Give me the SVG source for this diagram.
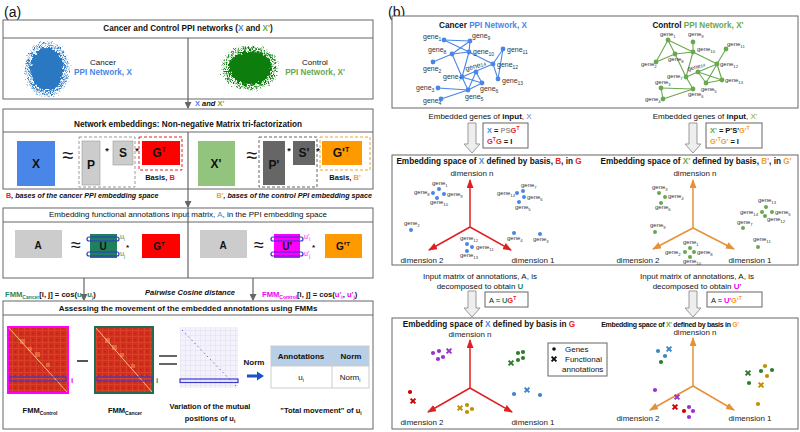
<svg xmlns="http://www.w3.org/2000/svg" xmlns:xlink="http://www.w3.org/1999/xlink" width="800" height="432" viewBox="0 0 800 432">
<style>
text{font-family:"Liberation Sans",Arial,sans-serif;fill:#111}
.b{font-weight:bold}
.i{font-style:italic}
.t8{font-size:8px}
.ti{font-size:8.2px;font-weight:bold}
.box{fill:#fff;stroke:#666;stroke-width:1}
.ln{stroke:#666;stroke-width:1.2;fill:none}
.gl{font-size:7px;fill:#333}
.gs{font-size:5px}
.gl2{font-size:6px;fill:#333}
.gs2{font-size:4.2px}
.ce{stroke:#4a86e8;stroke-width:1.1}
.ke{stroke:#6aa84f;stroke-width:1.1}
.mat{font-size:12px;font-weight:bold;text-anchor:middle}
.blue{fill:#4a86e8}
.grn{fill:#6aa84f}
.red{fill:#e8231f}
.org{fill:#f0a030}
.teal{fill:#1a8a6a}
.mag{fill:#ee00ee}
.dim{font-size:8px;fill:#222}
</style>
<defs>
<marker id="mg" markerWidth="7" markerHeight="7" refX="6" refY="3.5" orient="auto" markerUnits="userSpaceOnUse"><path d="M0,0 L7,3.5 L0,7 z" fill="#666"/></marker>
<marker id="mr" markerWidth="9" markerHeight="7" refX="8" refY="3.5" orient="auto" markerUnits="userSpaceOnUse"><path d="M0,0 L9,3.5 L0,7 z" fill="#e02020"/></marker>
<marker id="mo" markerWidth="9" markerHeight="7" refX="8" refY="3.5" orient="auto" markerUnits="userSpaceOnUse"><path d="M0,0 L9,3.5 L0,7 z" fill="#e69138"/></marker>
<path id="harrow" d="M-4,0 H4 V21 H8 L0,30 L-8,21 H-4 Z" fill="#eeeeee" stroke="#999" stroke-width="1"/>
<path id="harrow2" d="M-4,0 H4 V17 H8 L0,26 L-8,17 H-4 Z" fill="#eeeeee" stroke="#999" stroke-width="1"/>
<path id="xm" d="M-2.4,-2.4 L2.4,2.4 M2.4,-2.4 L-2.4,2.4" stroke-width="2"/>
<pattern id="hmp" width="6" height="6" patternUnits="userSpaceOnUse"><rect width="6" height="6" fill="#d22d20"/><path d="M0,0.5 H6 M0.5,0 V6" stroke="#e0502c" stroke-width="0.5"/><rect x="2" y="3" width="2" height="1.5" fill="#c2241a"/></pattern>
<pattern id="vp" width="5" height="5" patternUnits="userSpaceOnUse"><rect width="5" height="5" fill="#f4f2fb"/><path d="M0,0.5 H5 M0.5,0 V5" stroke="#e2ddf1" stroke-width="0.5"/></pattern>
<filter id="rough" x="-40%" y="-40%" width="180%" height="180%"><feTurbulence type="fractalNoise" baseFrequency="0.45" numOctaves="2" seed="4" result="n"/><feDisplacementMap in="SourceGraphic" in2="n" scale="9" xChannelSelector="R" yChannelSelector="G"/></filter>
</defs>

<!-- panel labels -->
<text x="4" y="17" style="font-size:14px">(a)</text>
<text x="388" y="17" style="font-size:14px">(b)</text>

<!-- ============ PANEL A ============ -->
<g id="a-box1">
<rect class="box" x="3" y="20" width="370" height="79"/>
<line class="ln" x1="3" y1="38" x2="373" y2="38" style="stroke-width:1"/>
<text class="ti" x="188" y="31" text-anchor="middle">Cancer and Control PPI networks (<tspan class="blue">X</tspan> and <tspan class="grn">X'</tspan>)</text>
<g id="cancer-blob" filter="url(#rough)">
<ellipse cx="47" cy="69" rx="17" ry="22" fill="#2b78c2"/>
<ellipse cx="47" cy="69" rx="19.5" ry="24.5" fill="none" stroke="#2b78c2" stroke-width="2.5" stroke-dasharray="1.5 1"/>
<ellipse cx="47" cy="69" rx="22" ry="27" fill="none" stroke="#5a9ad4" stroke-width="1.2" stroke-dasharray="1 2"/>
</g>
<text class="t8" x="103" y="65" text-anchor="middle">Cancer</text>
<text class="b blue" x="103" y="75" text-anchor="middle" style="font-size:8.2px">PPI Network, X</text>
<g id="control-blob" filter="url(#rough)">
<ellipse cx="250" cy="68" rx="22" ry="17" fill="#0a7d0a"/>
<ellipse cx="250" cy="68" rx="25" ry="19.5" fill="none" stroke="#0a7d0a" stroke-width="2.5" stroke-dasharray="1.5 1"/>
<ellipse cx="250" cy="68" rx="28" ry="22" fill="none" stroke="#2e8f2e" stroke-width="1.2" stroke-dasharray="1 2.5"/>
</g>
<text class="t8" x="315" y="65" text-anchor="middle">Control</text>
<text class="b grn" x="315" y="75" text-anchor="middle" style="font-size:8.2px">PPI Network, X'</text>
</g>

<g id="a-box2">
<rect class="box" x="3" y="109" width="370" height="80"/>
<line class="ln" x1="3" y1="132" x2="373" y2="132" style="stroke-width:1"/>
<text class="ti" x="188" y="127" text-anchor="middle">Network embeddings: Non-negative Matrix tri-factorization</text>
<rect x="17" y="141" width="38" height="45" fill="#4a86e8"/>
<text class="mat" x="36" y="168">X</text>
<text x="68" y="162" text-anchor="middle" style="font-size:20px">≈</text>
<rect x="79" y="137" width="56" height="50" fill="none" stroke="#999" stroke-dasharray="3 2"/>
<rect x="82" y="141" width="18" height="44" fill="#cccccc" stroke="#999" stroke-width="0.6"/>
<text class="mat" x="91" y="169">P</text>
<text x="107" y="154" text-anchor="middle" class="b" style="font-size:9px">*</text>
<rect x="113" y="141" width="20" height="24" fill="#cccccc" stroke="#999" stroke-width="0.6"/>
<text class="mat" x="123" y="157">S</text>
<text x="137" y="154" text-anchor="middle" class="b" style="font-size:9px">*</text>
<rect x="139" y="137" width="43" height="33" fill="none" stroke="#e8231f" stroke-dasharray="3 2"/>
<rect x="142" y="141" width="38" height="24" fill="#ff0000"/>
<text class="mat" x="159" y="157">G<tspan dy="-5" style="font-size:7px">T</tspan></text>
<text class="b" x="160" y="180" text-anchor="middle" style="font-size:7.5px">Basis, <tspan class="red">B</tspan></text>

<rect x="198" y="141" width="37" height="45" fill="#93c47d"/>
<text class="mat" x="216" y="168">X'</text>
<text x="252" y="162" text-anchor="middle" style="font-size:20px">≈</text>
<rect x="259" y="137" width="58" height="50" fill="none" stroke="#666" stroke-dasharray="3 2"/>
<rect x="263" y="141" width="22" height="44" fill="#666666"/>
<text class="mat" x="274" y="169">P'</text>
<text x="289" y="154" text-anchor="middle" class="b" style="font-size:9px">*</text>
<rect x="293" y="141" width="22" height="24" fill="#666666"/>
<text class="mat" x="304" y="157">S'</text>
<text x="318" y="154" text-anchor="middle" class="b" style="font-size:9px">*</text>
<rect x="320" y="137" width="50" height="33" fill="none" stroke="#f0a030" stroke-dasharray="3 2"/>
<rect x="322" y="141" width="40" height="24" fill="#ff9900"/>
<text class="mat" x="341" y="157">G'<tspan dy="-5" style="font-size:7px">T</tspan></text>
<text class="b" x="345" y="180" text-anchor="middle" style="font-size:7.5px">Basis, <tspan class="org">B'</tspan></text>
</g>

<text class="b i" x="6" y="198" style="font-size:7.2px"><tspan class="red" style="font-style:normal">B</tspan>,  bases of the cancer PPI embedding space</text>
<text class="b i" x="372" y="198" text-anchor="end" style="font-size:7.2px"><tspan class="org" style="font-style:normal">B'</tspan>, bases of the control PPI embedding space</text>

<g id="a-box3">
<rect class="box" x="3" y="208" width="370" height="70"/>
<line class="ln" x1="3" y1="222" x2="373" y2="222" style="stroke-width:1"/>
<text x="188" y="217" text-anchor="middle" style="font-size:8px;font-weight:500">Embedding functional annotations input matrix, <tspan fill="#5b7fc7">A</tspan>, in the PPI embedding space</text>
<rect x="15" y="230" width="47" height="28" fill="#cccccc"/>
<text class="mat" x="38" y="249" style="font-size:10px">A</text>
<text x="76" y="251" text-anchor="middle" style="font-size:18px">≈</text>
<rect x="90" y="234" width="27" height="24" fill="#1f7f5f"/>
<rect x="87" y="237" width="32" height="4" rx="2" fill="none" stroke="#3333cc" stroke-width="1.2"/>
<rect x="87" y="252" width="32" height="4" rx="2" fill="none" stroke="#3333cc" stroke-width="1.2"/>
<text class="mat" x="103" y="250" style="font-size:10px">U</text>
<text class="teal" x="120" y="239" style="font-size:7px">u<tspan dy="1.5" style="font-size:4.5px">i</tspan></text>
<text class="teal" x="120" y="256" style="font-size:7px">u<tspan dy="1.5" style="font-size:4.5px">j</tspan></text>
<text x="126" y="250" class="b" style="font-size:8px">*</text>
<rect x="142" y="234" width="38" height="24" fill="#ff0000"/>
<text class="mat" x="159" y="250" style="font-size:10px">G<tspan dy="-4" style="font-size:6px">T</tspan></text>

<rect x="200" y="230" width="47" height="28" fill="#cccccc"/>
<text class="mat" x="223" y="249" style="font-size:10px">A</text>
<text x="259" y="251" text-anchor="middle" style="font-size:18px">≈</text>
<rect x="274" y="234" width="26" height="24" fill="#ff00ff"/>
<rect x="271" y="237" width="32" height="4" rx="2" fill="none" stroke="#3333cc" stroke-width="1.2"/>
<rect x="271" y="252" width="32" height="4" rx="2" fill="none" stroke="#3333cc" stroke-width="1.2"/>
<text class="mat" x="287" y="250" style="font-size:10px">U'</text>
<text class="mag" x="304" y="239" style="font-size:7px">u'<tspan dy="1.5" style="font-size:4.5px">i</tspan></text>
<text class="mag" x="304" y="256" style="font-size:7px">u'<tspan dy="1.5" style="font-size:4.5px">j</tspan></text>
<text x="312" y="250" class="b" style="font-size:8px">*</text>
<rect x="325" y="234" width="37" height="24" fill="#ff9900"/>
<text class="mat" x="343" y="250" style="font-size:10px">G'<tspan dy="-4" style="font-size:6px">T</tspan></text>
</g>

<text class="b" x="5" y="297" style="font-size:7.6px"><tspan class="teal">FMM</tspan><tspan class="teal" dy="1.8" style="font-size:5px">Cancer</tspan><tspan dy="-1.8">[i, j] = cos(</tspan><tspan class="teal">u</tspan><tspan class="teal" dy="1.8" style="font-size:5px">i</tspan><tspan dy="-1.8">, </tspan><tspan class="teal">u</tspan><tspan class="teal" dy="1.8" style="font-size:5px">j</tspan><tspan dy="-1.8">)</tspan></text>
<text class="b i" x="190" y="295" text-anchor="middle" style="font-size:7.5px">Pairwise Cosine distance</text>
<text class="b" x="262" y="297" style="font-size:7.6px"><tspan class="mag">FMM</tspan><tspan class="mag" dy="1.8" style="font-size:5px">Control</tspan><tspan dy="-1.8">[i, j] = cos(</tspan><tspan class="mag">u'</tspan><tspan class="mag" dy="1.8" style="font-size:5px">i</tspan><tspan dy="-1.8">, </tspan><tspan class="mag">u'</tspan><tspan class="mag" dy="1.8" style="font-size:5px">j</tspan><tspan dy="-1.8">)</tspan></text>

<g id="a-box4">
<rect class="box" x="3" y="301" width="370" height="128"/>
<line class="ln" x1="3" y1="315" x2="373" y2="315" style="stroke-width:1"/>
<text class="ti" x="188" y="311" text-anchor="middle" style="font-size:8px">Assessing the movement of the embedded annotations using FMMs</text>
<g id="fmm-control">
<rect x="8" y="327" width="60" height="66" fill="url(#hmp)" stroke="#ff00ff" stroke-width="2"/>
<g fill="#f39a55" opacity="0.5"><rect x="20" y="339" width="5" height="5"/><rect x="28" y="347" width="4" height="4"/><rect x="35" y="352" width="5" height="5"/><rect x="46" y="363" width="4" height="4"/></g>
<line x1="9" y1="328" x2="67" y2="392" stroke="#f8d08a" stroke-width="0.9"/>
<rect x="10" y="377" width="56" height="4" fill="none" stroke="#3b3bd0" stroke-width="1.2"/>
<text class="mag b" x="71" y="383" style="font-size:8px">i</text>
</g>
<line x1="77" y1="361" x2="88" y2="361" stroke="#555" stroke-width="2"/>
<g id="fmm-cancer">
<rect x="95" y="327" width="58" height="66" fill="url(#hmp)" stroke="#1f6e4f" stroke-width="2"/>
<g fill="#f39a55" opacity="0.5"><rect x="105" y="338" width="5" height="5"/><rect x="112" y="345" width="5" height="5"/><rect x="120" y="353" width="4" height="4"/><rect x="131" y="364" width="4" height="4"/></g>
<line x1="96" y1="328" x2="152" y2="392" stroke="#f8d08a" stroke-width="0.9"/>
<rect x="97" y="377" width="55" height="4" fill="none" stroke="#3b3bd0" stroke-width="1.2"/>
<text class="teal b" x="156" y="383" style="font-size:8px">i</text>
</g>
<line x1="159" y1="356" x2="177" y2="356" stroke="#555" stroke-width="1.8"/>
<line x1="159" y1="364" x2="177" y2="364" stroke="#555" stroke-width="1.8"/>
<g id="variation">
<rect x="180" y="327" width="58" height="61" fill="url(#vp)"/>
<line x1="182" y1="330" x2="236" y2="386" stroke="#6a6ad0" stroke-width="1" stroke-dasharray="1.5 3"/>
<rect x="180" y="379" width="58" height="3.5" fill="none" stroke="#3b3bd0" stroke-width="1.2"/>
</g>
<text class="b" x="40" y="413" text-anchor="middle" style="font-size:7.5px">FMM<tspan dy="1.8" style="font-size:5px">Control</tspan></text>
<text class="b" x="125" y="413" text-anchor="middle" style="font-size:7.5px">FMM<tspan dy="1.8" style="font-size:5px">Cancer</tspan></text>
<text class="b" x="210" y="409" text-anchor="middle" style="font-size:7.5px">Variation of the mutual</text>
<text class="b" x="210" y="421" text-anchor="middle" style="font-size:7.5px">positions of u<tspan dy="1.8" style="font-size:5px">i</tspan></text>
<text class="b" x="254" y="365" text-anchor="middle" style="font-size:8px">Norm</text>
<line x1="247" y1="376" x2="258" y2="376" stroke="#1c4fc9" stroke-width="3"/>
<path d="M257,371.5 L264,376 L257,380.5 z" fill="#1c4fc9"/>
<g id="norm-table">
<rect x="271" y="346" width="98" height="20" fill="#b8cfe8"/>
<rect x="271" y="346" width="98" height="42" fill="none" stroke="#ccc"/>
<line x1="271" y1="366" x2="369" y2="366" stroke="#ccc"/>
<line x1="332" y1="346" x2="332" y2="388" stroke="#ccc"/>
<text class="b" x="301" y="359" text-anchor="middle" style="font-size:8px">Annotations</text>
<text class="b" x="351" y="359" text-anchor="middle" style="font-size:8px">Norm</text>
<text x="301" y="380" text-anchor="middle" style="font-size:8px">u<tspan dy="1.8" style="font-size:5px">i</tspan></text>
<text x="350" y="380" text-anchor="middle" style="font-size:8px">Norm<tspan dy="1.8" style="font-size:5px">i</tspan></text>
</g>
<text class="b" x="321" y="413" text-anchor="middle" style="font-size:7.5px">"Total movement" of u<tspan dy="1.8" style="font-size:5px">i</tspan></text>
</g>

<g id="a-connectors">
<line class="ln" x1="188" y1="38" x2="188" y2="108" marker-end="url(#mg)"/>
<line class="ln" x1="188" y1="132" x2="188" y2="207" marker-end="url(#mg)"/>
<line class="ln" x1="188" y1="208" x2="188" y2="278"/>
<line class="ln" x1="84" y1="278" x2="84" y2="300" marker-end="url(#mg)"/>
<line class="ln" x1="253" y1="278" x2="253" y2="300" marker-end="url(#mg)"/>
</g>
<text class="b" x="195" y="106" style="font-size:7.5px"><tspan class="blue">X</tspan><tspan class="i"> and </tspan><tspan class="grn">X'</tspan></text>

<!-- ============ PANEL B ============ -->
<g id="b-box1">
<rect class="box" x="392" y="16" width="406" height="92"/>
<text class="ti" x="483" y="28" text-anchor="middle">Cancer <tspan class="blue">PPI Network, X</tspan></text>
<text class="ti" x="698" y="28" text-anchor="middle">Control <tspan class="grn">PPI Network, X'</tspan></text>
<g id="cancer-net">
<g class="ce">
<line x1="444" y1="40" x2="470" y2="41"/><line x1="444" y1="40" x2="469" y2="52"/>
<line x1="452" y1="54" x2="470" y2="41"/><line x1="452" y1="54" x2="469" y2="52"/>
<line x1="433" y1="62" x2="452" y2="54"/><line x1="452" y1="54" x2="462" y2="77"/>
<line x1="470" y1="41" x2="469" y2="52"/><line x1="469" y1="52" x2="462" y2="77"/>
<line x1="469" y1="52" x2="493" y2="64"/><line x1="503" y1="49" x2="493" y2="64"/>
<line x1="503" y1="49" x2="498" y2="79"/><line x1="493" y1="64" x2="498" y2="79"/>
<line x1="462" y1="77" x2="493" y2="64"/><line x1="462" y1="77" x2="482" y2="83"/>
<line x1="462" y1="77" x2="468" y2="90"/><line x1="476" y1="72" x2="468" y2="90"/>
<line x1="476" y1="72" x2="482" y2="83"/><line x1="468" y1="90" x2="482" y2="83"/>
<line x1="438" y1="88" x2="468" y2="90"/><line x1="441" y1="99" x2="468" y2="90"/>
</g>
<g fill="#4a86e8">
<circle cx="444" cy="40" r="2.4"/><circle cx="470" cy="41" r="2.4"/><circle cx="452" cy="54" r="2.4"/><circle cx="469" cy="52" r="2.4"/><circle cx="503" cy="49" r="2.4"/><circle cx="433" cy="62" r="2.4"/><circle cx="493" cy="64" r="2.4"/><circle cx="476" cy="72" r="2.4"/><circle cx="462" cy="77" r="2.4"/><circle cx="498" cy="79" r="2.4"/><circle cx="438" cy="88" r="2.4"/><circle cx="482" cy="83" r="2.4"/><circle cx="468" cy="90" r="2.4"/><circle cx="441" cy="99" r="2.4"/>
</g>
<text class="gl" x="423" y="39">gene<tspan class="gs" dy="2">1</tspan></text>
<text class="gl" x="472" y="38">gene<tspan class="gs" dy="2">9</tspan></text>
<text class="gl" x="428" y="52">gene<tspan class="gs" dy="2">8</tspan></text>
<text class="gl" x="473" y="54">gene<tspan class="gs" dy="2">10</tspan></text>
<text class="gl" x="507" y="52">gene<tspan class="gs" dy="2">11</tspan></text>
<text class="gl" x="423" y="71">gene<tspan class="gs" dy="2">2</tspan></text>
<text class="gl" x="497" y="67">gene<tspan class="gs" dy="2">12</tspan></text>
<text class="gl" x="466" y="71" transform="rotate(-15 466 71)">gene<tspan class="gs" dy="0">14</tspan></text>
<text class="gl" x="443" y="79">gene<tspan class="gs" dy="2">7</tspan></text>
<text class="gl" x="502" y="83">gene<tspan class="gs" dy="2">13</tspan></text>
<text class="gl" x="416" y="90">gene<tspan class="gs" dy="2">3</tspan></text>
<text class="gl" x="480" y="91">gene<tspan class="gs" dy="2">6</tspan></text>
<text class="gl" x="465" y="99">gene<tspan class="gs" dy="2">5</tspan></text>
<text class="gl" x="423" y="103">gene<tspan class="gs" dy="2">4</tspan></text>
</g>
<g id="control-net">
<g class="ke">
<line x1="668" y1="40" x2="656" y2="62"/><line x1="668" y1="40" x2="675" y2="54"/>
<line x1="668" y1="40" x2="693" y2="52"/><line x1="693" y1="42" x2="693" y2="52"/>
<line x1="656" y1="62" x2="675" y2="54"/><line x1="675" y1="54" x2="693" y2="52"/>
<line x1="675" y1="54" x2="686" y2="77"/><line x1="693" y1="52" x2="686" y2="77"/>
<line x1="693" y1="52" x2="717" y2="64"/><line x1="726" y1="49" x2="717" y2="64"/>
<line x1="686" y1="77" x2="717" y2="64"/><line x1="698" y1="72" x2="722" y2="80"/>
<line x1="698" y1="72" x2="706" y2="83"/><line x1="717" y1="64" x2="706" y2="83"/>
<line x1="706" y1="83" x2="722" y2="80"/><line x1="717" y1="64" x2="722" y2="80"/>
<line x1="686" y1="77" x2="693" y2="89"/><line x1="661" y1="88" x2="693" y2="89"/>
<line x1="663" y1="99" x2="693" y2="89"/><line x1="661" y1="88" x2="663" y2="99"/>
</g>
<g fill="#6aa84f">
<circle cx="668" cy="40" r="2.4"/><circle cx="693" cy="42" r="2.4"/><circle cx="693" cy="52" r="2.4"/><circle cx="726" cy="49" r="2.4"/><circle cx="675" cy="54" r="2.4"/><circle cx="656" cy="62" r="2.4"/><circle cx="717" cy="64" r="2.4"/><circle cx="698" cy="72" r="2.4"/><circle cx="686" cy="77" r="2.4"/><circle cx="722" cy="80" r="2.4"/><circle cx="661" cy="88" r="2.4"/><circle cx="706" cy="83" r="2.4"/><circle cx="693" cy="89" r="2.4"/><circle cx="663" cy="99" r="2.4"/>
</g>
<text class="gl2" x="660" y="36">gene<tspan class="gs2" dy="1.6">1</tspan></text>
<text class="gl2" x="688" y="36">gene<tspan class="gs2" dy="1.6">9</tspan></text>
<text class="gl2" x="697" y="51">gene<tspan class="gs2" dy="1.6">10</tspan></text>
<text class="gl2" x="727" y="46">gene<tspan class="gs2" dy="1.6">11</tspan></text>
<text class="gl2" x="668" y="61">gene<tspan class="gs2" dy="1.6">8</tspan></text>
<text class="gl2" x="641" y="66">gene<tspan class="gs2" dy="1.6">2</tspan></text>
<text class="gl2" x="720" y="66">gene<tspan class="gs2" dy="1.6">12</tspan></text>
<text class="gl2" x="688" y="71" transform="rotate(-15 688 71)">gene<tspan class="gs2">14</tspan></text>
<text class="gl2" x="667" y="78">gene<tspan class="gs2" dy="1.6">7</tspan></text>
<text class="gl2" x="725" y="82">gene<tspan class="gs2" dy="1.6">13</tspan></text>
<text class="gl2" x="655" y="84">gene<tspan class="gs2" dy="1.6">3</tspan></text>
<text class="gl2" x="701" y="91">gene<tspan class="gs2" dy="1.6">5</tspan></text>
<text class="gl2" x="688" y="96">gene<tspan class="gs2" dy="1.6">6</tspan></text>
<text class="gl2" x="645" y="101">gene<tspan class="gs2" dy="1.6">4</tspan></text>
</g>
</g>

<text class="t8" x="480" y="119" text-anchor="middle">Embedded genes of <tspan class="b">input</tspan>, <tspan class="blue">X</tspan></text>
<text class="t8" x="705" y="119" text-anchor="middle">Embedded genes of <tspan class="b">input</tspan>, <tspan class="grn">X'</tspan></text>
<g id="b-formula1">
<rect x="483" y="123" width="45" height="25" fill="#fff" stroke="#666"/>
<text class="b" x="487" y="133" style="font-size:7.5px"><tspan class="blue">X</tspan> = <tspan fill="#999">PS</tspan><tspan class="red">G</tspan><tspan class="red" dy="-3" style="font-size:5px">T</tspan></text>
<text class="b" x="487" y="144" style="font-size:7.5px"><tspan class="red">G</tspan><tspan class="red" dy="-3" style="font-size:5px">T</tspan><tspan class="red" dy="3">G</tspan> = I</text>
</g>
<g id="b-formula2">
<rect x="706" y="123" width="56" height="25" fill="#fff" stroke="#666"/>
<text class="b" x="710" y="133" style="font-size:7.5px"><tspan class="grn">X'</tspan> = P'S'<tspan class="org">G'</tspan><tspan class="org" dy="-3" style="font-size:5px">T</tspan></text>
<text class="b" x="710" y="144" style="font-size:7.5px"><tspan class="org">G'</tspan><tspan class="org" dy="-3" style="font-size:5px">T</tspan><tspan class="org" dy="3">G'</tspan> = I</text>
</g>

<g id="b-box2">
<rect class="box" x="392" y="155" width="406" height="110"/>
<text class="ti" x="489" y="164" text-anchor="middle">Embedding space of <tspan class="blue">X</tspan> defined by basis, <tspan class="red">B</tspan>, in <tspan class="red">G</tspan></text>
<text class="ti" x="696" y="164" text-anchor="middle">Embedding space of <tspan class="grn">X'</tspan> defined by basis, <tspan class="org">B'</tspan>, in <tspan class="org">G'</tspan></text>
<g stroke="#e02020" stroke-width="1.5">
<line x1="470" y1="227" x2="470" y2="180" marker-end="url(#mr)"/>
<line x1="470" y1="227" x2="429" y2="250" marker-end="url(#mr)"/>
<line x1="470" y1="227" x2="511" y2="250" marker-end="url(#mr)"/>
</g>
<text class="dim" x="472" y="176" text-anchor="middle">dimension n</text>
<text class="dim" x="422" y="263" text-anchor="middle">dimension 2</text>
<text class="dim" x="533" y="263" text-anchor="middle">dimension 1</text>
<g fill="#4a86e8">
<circle cx="439" cy="189" r="2"/><circle cx="433" cy="193" r="2"/><circle cx="444" cy="194" r="2"/><circle cx="437" cy="198" r="2"/>
<circle cx="523" cy="191" r="2"/><circle cx="517" cy="193" r="2"/><circle cx="524" cy="197" r="2"/><circle cx="519" cy="202" r="2"/>
<circle cx="411" cy="230" r="2"/><circle cx="514" cy="233" r="2"/><circle cx="540" cy="234" r="2"/>
<circle cx="467" cy="244" r="2"/><circle cx="472" cy="247" r="2"/><circle cx="467" cy="251" r="2"/>
</g>
<text class="gl2" x="432" y="185">gene<tspan class="gs2" dy="1.6">1</tspan></text>
<text class="gl2" x="414" y="194">gene<tspan class="gs2" dy="1.6">8</tspan></text>
<text class="gl2" x="447" y="196">gene<tspan class="gs2" dy="1.6">9</tspan></text>
<text class="gl2" x="430" y="204">gene<tspan class="gs2" dy="1.6">10</tspan></text>
<text class="gl2" x="521" y="187">gene<tspan class="gs2" dy="1.6">7</tspan></text>
<text class="gl2" x="497" y="195">gene<tspan class="gs2" dy="1.6">14</tspan></text>
<text class="gl2" x="527" y="199">gene<tspan class="gs2" dy="1.6">6</tspan></text>
<text class="gl2" x="515" y="209">gene<tspan class="gs2" dy="1.6">5</tspan></text>
<text class="gl2" x="404" y="225">gene<tspan class="gs2" dy="1.6">2</tspan></text>
<text class="gl2" x="507" y="240">gene<tspan class="gs2" dy="1.6">4</tspan></text>
<text class="gl2" x="533" y="241">gene<tspan class="gs2" dy="1.6">3</tspan></text>
<text class="gl2" x="460" y="240">gene<tspan class="gs2" dy="1.6">12</tspan></text>
<text class="gl2" x="476" y="249">gene<tspan class="gs2" dy="1.6">11</tspan></text>
<text class="gl2" x="460" y="257">gene<tspan class="gs2" dy="1.6">13</tspan></text>

<g stroke="#e69138" stroke-width="1.5">
<line x1="693" y1="228" x2="693" y2="180" marker-end="url(#mo)"/>
<line x1="693" y1="228" x2="653" y2="249" marker-end="url(#mo)"/>
<line x1="693" y1="228" x2="734" y2="249" marker-end="url(#mo)"/>
</g>
<text class="dim" x="695" y="176" text-anchor="middle">dimension n</text>
<text class="dim" x="638" y="263" text-anchor="middle">dimension 2</text>
<text class="dim" x="750" y="263" text-anchor="middle">dimension 1</text>
<g fill="#6aa84f">
<circle cx="659" cy="193" r="2"/><circle cx="665" cy="197" r="2"/><circle cx="661" cy="203" r="2"/>
<circle cx="655" cy="232" r="2"/>
<circle cx="766" cy="207" r="2"/><circle cx="762" cy="212" r="2"/><circle cx="772" cy="212" r="2"/><circle cx="765" cy="216" r="2"/>
<circle cx="743" cy="228" r="2"/><circle cx="758" cy="247" r="2"/>
<circle cx="690" cy="248" r="2"/><circle cx="685" cy="252" r="2"/><circle cx="694" cy="252" r="2"/><circle cx="690" cy="257" r="2"/>
</g>
<text class="gl2" x="652" y="189">gene<tspan class="gs2" dy="1.6">3</tspan></text>
<text class="gl2" x="668" y="198">gene<tspan class="gs2" dy="1.6">4</tspan></text>
<text class="gl2" x="655" y="209">gene<tspan class="gs2" dy="1.6">6</tspan></text>
<text class="gl2" x="650" y="227">gene<tspan class="gs2" dy="1.6">9</tspan></text>
<text class="gl2" x="758" y="202">gene<tspan class="gs2" dy="1.6">13</tspan></text>
<text class="gl2" x="740" y="214">gene<tspan class="gs2" dy="1.6">14</tspan></text>
<text class="gl2" x="775" y="214">gene<tspan class="gs2" dy="1.6">5</tspan></text>
<text class="gl2" x="767" y="221">gene<tspan class="gs2" dy="1.6">12</tspan></text>
<text class="gl2" x="737" y="224">gene<tspan class="gs2" dy="1.6">7</tspan></text>
<text class="gl2" x="753" y="241">gene<tspan class="gs2" dy="1.6">11</tspan></text>
<text class="gl2" x="683" y="244">gene<tspan class="gs2" dy="1.6">1</tspan></text>
<text class="gl2" x="665" y="254">gene<tspan class="gs2" dy="1.6">2</tspan></text>
<text class="gl2" x="697" y="254">gene<tspan class="gs2" dy="1.6">8</tspan></text>
<text class="gl2" x="683" y="263">gene<tspan class="gs2" dy="1.6">10</tspan></text>
</g>

<text class="t8" x="480" y="279" text-anchor="middle">Input matrix of annotations, A, is</text>
<text class="t8" x="480" y="289" text-anchor="middle">decomposed to obtain <tspan class="b teal">U</tspan></text>
<text class="t8" x="697" y="279" text-anchor="middle">Input matrix of annotations, A, is</text>
<text class="t8" x="697" y="289" text-anchor="middle">decomposed to obtain <tspan class="b mag">U'</tspan></text>
<g id="b-formula3">
<rect x="485" y="292" width="43" height="15" fill="#fff" stroke="#666"/>
<text x="489" y="303" style="font-size:7.5px">A ≈ <tspan class="b teal">U</tspan><tspan class="b red">G</tspan><tspan class="b red" dy="-3" style="font-size:5px">T</tspan></text>
</g>
<g id="b-formula4">
<rect x="707" y="292" width="55" height="15" fill="#fff" stroke="#666"/>
<text x="711" y="303" style="font-size:7.5px">A ≈ <tspan class="b mag">U'</tspan><tspan class="b org">G'</tspan><tspan class="b org" dy="-3" style="font-size:5px">T</tspan></text>
</g>

<g id="b-connectors">
<use xlink:href="#harrow" x="472" y="123"/>
<use xlink:href="#harrow" x="693" y="123"/>
<use xlink:href="#harrow2" x="472" y="291"/>
<use xlink:href="#harrow2" x="693" y="291"/>
</g>

<g id="b-box3">
<rect class="box" x="392" y="318" width="406" height="111"/>
<text class="ti" x="489" y="327" text-anchor="middle">Embedding space of <tspan class="blue">X</tspan> defined by basis in <tspan class="red">G</tspan></text>
<text class="ti" x="670" y="327" text-anchor="middle" style="font-size:7px;letter-spacing:-0.3px">Embedding space of <tspan class="grn">X'</tspan> defined by basis in <tspan class="org">G'</tspan></text>
<g stroke="#e02020" stroke-width="1.5">
<line x1="470" y1="388" x2="470" y2="340" marker-end="url(#mr)"/>
<line x1="470" y1="388" x2="428" y2="412" marker-end="url(#mr)"/>
<line x1="470" y1="388" x2="512" y2="412" marker-end="url(#mr)"/>
</g>
<text class="dim" x="470" y="337" text-anchor="middle">dimension n</text>
<text class="dim" x="422" y="425" text-anchor="middle">dimension 2</text>
<text class="dim" x="533" y="425" text-anchor="middle">dimension 1</text>
<g fill="#9933cc" stroke="#9933cc"><circle cx="433" cy="353" r="2.1" stroke="none"/><circle cx="439" cy="351" r="2.1" stroke="none"/><circle cx="438" cy="359" r="2.1" stroke="none"/><circle cx="443" cy="357" r="2.1" stroke="none"/><use xlink:href="#xm" x="449" y="351"/></g>
<g fill="#2d7d2d" stroke="#2d7d2d"><circle cx="518" cy="353" r="2.1" stroke="none"/><circle cx="523" cy="352" r="2.1" stroke="none"/><circle cx="523" cy="358" r="2.1" stroke="none"/><circle cx="518" cy="360" r="2.1" stroke="none"/><use xlink:href="#xm" x="511" y="363"/></g>
<g fill="#cc0000" stroke="#cc0000"><circle cx="410" cy="392" r="2.1" stroke="none"/><use xlink:href="#xm" x="413" y="401"/></g>
<g fill="#3d85c6" stroke="#3d85c6"><circle cx="514" cy="394" r="2.1" stroke="none"/><circle cx="540" cy="395" r="2.1" stroke="none"/><use xlink:href="#xm" x="527" y="390"/></g>
<g fill="#bf9000" stroke="#bf9000"><circle cx="467" cy="405" r="2.1" stroke="none"/><circle cx="472" cy="409" r="2.1" stroke="none"/><circle cx="467" cy="412" r="2.1" stroke="none"/><use xlink:href="#xm" x="460" y="408"/></g>
<g id="legend">
<rect x="548" y="343" width="59" height="33" fill="#fff" stroke="#666"/>
<circle cx="554" cy="349" r="1.8" fill="#111"/>
<use xlink:href="#xm" x="554" y="359" stroke="#111"/>
<text class="t8" x="565" y="352">Genes</text>
<text class="t8" x="565" y="362">Functional</text>
<text class="t8" x="562" y="372">annotations</text>
</g>

<g stroke="#e69138" stroke-width="1.5">
<line x1="693" y1="386" x2="693" y2="338" marker-end="url(#mo)"/>
<line x1="693" y1="386" x2="650" y2="410" marker-end="url(#mo)"/>
<line x1="693" y1="386" x2="734" y2="410" marker-end="url(#mo)"/>
</g>
<text class="dim" x="695" y="335" text-anchor="middle">dimension n</text>
<text class="dim" x="638" y="421" text-anchor="middle">dimension 2</text>
<text class="dim" x="750" y="421" text-anchor="middle">dimension 1</text>
<g fill="#3d85c6" stroke="#3d85c6"><circle cx="658" cy="351" r="2.1" stroke="none"/><circle cx="665" cy="356" r="2.1" stroke="none"/><use xlink:href="#xm" x="669" y="349"/></g>
<circle cx="661" cy="362" r="2.1" fill="#2d7d2d"/>
<g fill="#9933cc" stroke="#9933cc"><circle cx="655" cy="390" r="2.1" stroke="none"/><circle cx="689" cy="407" r="2.1" stroke="none"/><circle cx="693" cy="411" r="2.1" stroke="none"/><circle cx="689" cy="417" r="2.1" stroke="none"/><use xlink:href="#xm" x="677" y="397"/></g>
<g fill="#cc0000" stroke="#cc0000"><circle cx="684" cy="411" r="2.1" stroke="none"/><use xlink:href="#xm" x="675" y="407"/></g>
<g fill="#2d7d2d" stroke="#2d7d2d"><circle cx="749" cy="383" r="2.1" stroke="none"/><circle cx="761" cy="371" r="2.1" stroke="none"/><circle cx="772" cy="370" r="2.1" stroke="none"/><use xlink:href="#xm" x="748" y="373"/></g>
<g fill="#bf9000" stroke="#bf9000"><circle cx="765" cy="366" r="2.1" stroke="none"/><circle cx="767" cy="376" r="2.1" stroke="none"/><circle cx="758" cy="404" r="2.1" stroke="none"/><use xlink:href="#xm" x="761" y="385"/></g>
</g>
</svg>
